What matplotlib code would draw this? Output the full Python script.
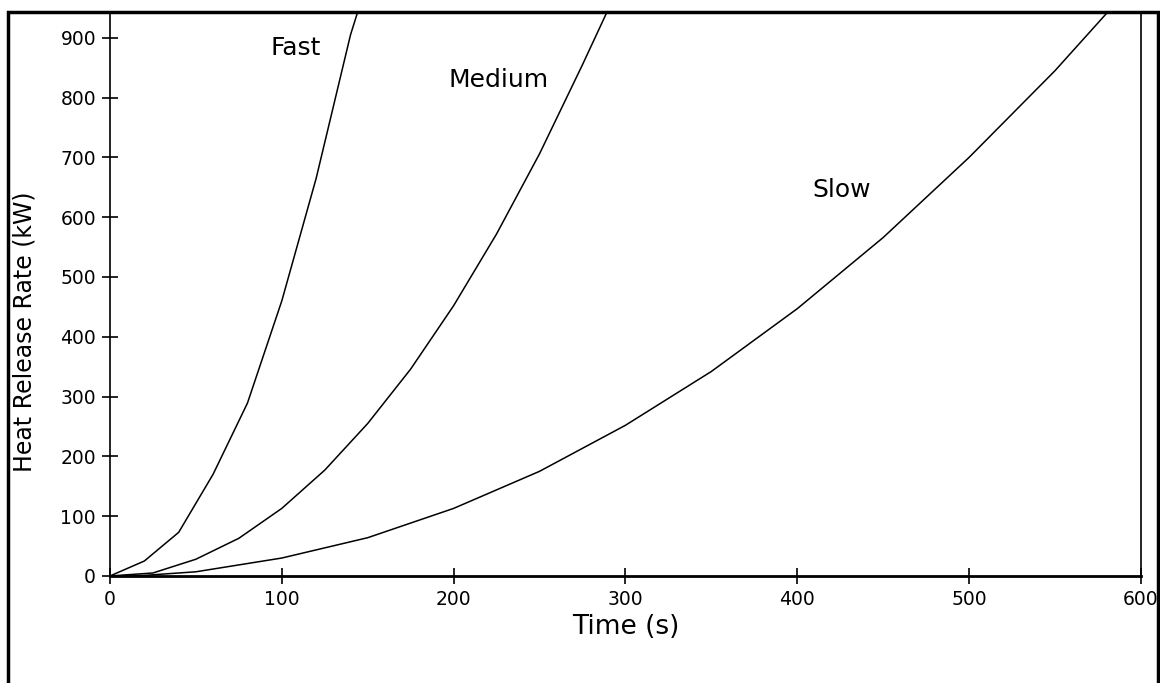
import matplotlib.pyplot as plt
from matplotlib.patches import Rectangle

# values (time in s, heat release rate in kW)
fast_t = [0, 20, 40, 60, 80, 100, 120, 140, 146]
fast_q = [0, 25, 73, 170, 289, 460, 665, 905, 960]

medium_t = [0, 25, 50, 75, 100, 125, 150, 175, 200, 225, 250, 275, 292]
medium_q = [0, 5, 28, 63, 113, 177, 255, 346, 452, 572, 706, 855, 960]

slow_t = [0, 20, 50, 100, 150, 200, 250, 300, 350, 400, 450, 500, 550, 586]
slow_q = [0, 1, 7, 30, 64, 113, 175, 252, 342, 447, 566, 700, 845, 960]

labels = ["Fast", "Medium", "Slow"]
label_t = [108, 226, 426]
label_q = [883, 829, 645]

x_ticks = [0, 100, 200, 300, 400, 500, 600]
y_ticks = [0, 100, 200, 300, 400, 500, 600, 700, 800, 900]

fig = plt.figure(figsize=(11.6, 6.83), dpi=100)
ax = fig.add_axes([0.0948, 0.1567, 0.8888, 0.8257])

for t, q in [(fast_t, fast_q), (medium_t, medium_q), (slow_t, slow_q)]:
    ax.plot(t, q, color="black", linewidth=1.1)

for s, t, q in zip(labels, label_t, label_q):
    ax.text(t, q, s, fontsize=18, ha="center", va="center", color="black")

ax.set_xlim(0, 600)
ax.set_ylim(0, 943)
ax.set_xticks(x_ticks)
ax.set_yticks(y_ticks)
ax.tick_params(direction="inout", length=12, width=1.2, labelsize=13.5, pad=4)
ax.set_xlabel("Time (s)", fontsize=19, labelpad=4)
ax.set_ylabel("Heat Release Rate (kW)", fontsize=17)
ax.yaxis.set_label_coords(-0.071, 0.433)

ax.spines["top"].set_visible(False)
ax.spines["bottom"].set_linewidth(2)
ax.spines["left"].set_linewidth(1.2)
ax.spines["right"].set_linewidth(1.2)

# outer frame around the whole chart (bottom edge lies below the picture)
frame = Rectangle((8 / 1160, -0.1), 1150 / 1160, 1.1 - 12 / 683,
                  transform=fig.transFigure, fill=False,
                  edgecolor="black", linewidth=2.5, clip_on=False)
fig.add_artist(frame)

plt.savefig("out.png", dpi=100)
